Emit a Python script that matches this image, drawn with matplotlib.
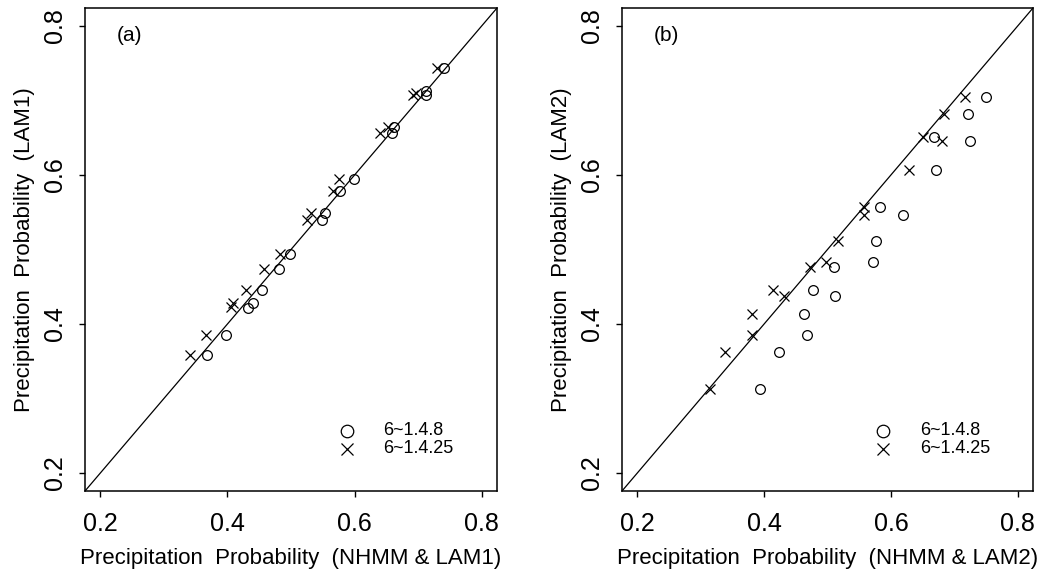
import matplotlib
matplotlib.use("Agg")
import matplotlib.pyplot as plt

plt.rcParams['font.family'] = ['Liberation Sans', 'DejaVu Sans']

# panel (a): NHMM & LAM1 vs LAM1
a_circ_x = [0.368, 0.398, 0.433, 0.440, 0.454, 0.481, 0.498, 0.549, 0.553, 0.577,
            0.599, 0.659, 0.662, 0.712, 0.713, 0.740]
a_circ_y = [0.358, 0.385, 0.422, 0.428, 0.445, 0.474, 0.494, 0.540, 0.549, 0.579,
            0.594, 0.656, 0.665, 0.707, 0.712, 0.744]
a_cross_x = [0.341, 0.367, 0.405, 0.408, 0.430, 0.457, 0.483, 0.525, 0.532, 0.566,
             0.575, 0.640, 0.652, 0.692, 0.696, 0.729]
a_cross_y = [0.358, 0.385, 0.423, 0.428, 0.445, 0.474, 0.494, 0.540, 0.549, 0.579,
             0.594, 0.656, 0.665, 0.707, 0.710, 0.744]

# panel (b): NHMM & LAM2 vs LAM2
b_circ_x = [0.394, 0.424, 0.463, 0.467, 0.477, 0.510, 0.512, 0.572, 0.576, 0.582,
            0.619, 0.671, 0.668, 0.721, 0.725, 0.750]
b_circ_y = [0.313, 0.363, 0.413, 0.385, 0.445, 0.476, 0.438, 0.483, 0.512, 0.557,
            0.546, 0.606, 0.651, 0.682, 0.645, 0.705]
b_cross_x = [0.314, 0.338, 0.381, 0.381, 0.414, 0.432, 0.473, 0.497, 0.517, 0.557,
             0.558, 0.629, 0.651, 0.681, 0.683, 0.717]
b_cross_y = [0.313, 0.363, 0.385, 0.413, 0.445, 0.437, 0.476, 0.483, 0.512, 0.546,
             0.557, 0.606, 0.651, 0.645, 0.682, 0.705]

ticks = [0.2, 0.4, 0.6, 0.8]
tick_labels = ['0.2', '0.4', '0.6', '0.8']
legend_labels = ['6~1.4.8', '6~1.4.25']
lim = (0.176, 0.824)


def draw_panel(ax, cx, cy, xx, xy, tag, xlab, ylab):
    ax.plot(lim, lim, color='black', linewidth=0.9, zorder=1)
    ax.plot(cx, cy, linestyle='none', marker='o', markersize=7, markerfacecolor='none',
            markeredgecolor='black', markeredgewidth=0.9, zorder=3)
    ax.plot(xx, xy, linestyle='none', marker='x', markersize=7, color='black',
            markeredgewidth=0.9, zorder=3)
    ax.set_xlim(lim)
    ax.set_ylim(lim)
    ax.set_xticks(ticks)
    ax.set_xticklabels(tick_labels)
    ax.set_yticks(ticks)
    ax.set_yticklabels(tick_labels, rotation=90, va='center')
    ax.tick_params(direction='out', length=4, width=1, labelsize=18, colors='black')
    ax.tick_params(axis='x', pad=11)
    ax.tick_params(axis='y', pad=9)
    for s in ax.spines.values():
        s.set_linewidth(1.1)
    ax.set_xlabel(xlab, fontsize=16)
    ax.set_ylabel(ylab, fontsize=16)
    ax.xaxis.set_label_coords(0.5, -0.117)
    ax.yaxis.set_label_coords(-0.122, 0.5)
    ax.text(0.2455, 0.787, tag, fontsize=15, ha='center', va='center')
    # legend drawn in data coords like the original
    ax.plot([0.5875], [0.257], marker='o', markersize=9, markerfacecolor='none',
            markeredgecolor='black', markeredgewidth=0.9, linestyle='none')
    ax.plot([0.5875], [0.233], marker='x', markersize=9, color='black',
            markeredgewidth=0.9, linestyle='none')
    ax.text(0.6455, 0.257, legend_labels[0], fontsize=13, va='center')
    ax.text(0.6455, 0.233, legend_labels[1], fontsize=13, va='center')


fig = plt.figure(figsize=(10.42, 5.73), dpi=100)
ax1 = fig.add_axes([85 / 1042, 82 / 573, 412 / 1042, 483 / 573])
ax2 = fig.add_axes([622 / 1042, 82 / 573, 411 / 1042, 483 / 573])

draw_panel(ax1, a_circ_x, a_circ_y, a_cross_x, a_cross_y, '(a)',
           'Precipitation  Probability  (NHMM & LAM1)', 'Precipitation  Probability  (LAM1)')
draw_panel(ax2, b_circ_x, b_circ_y, b_cross_x, b_cross_y, '(b)',
           'Precipitation  Probability  (NHMM & LAM2)', 'Precipitation  Probability  (LAM2)')

fig.savefig('out.png', dpi=100)
